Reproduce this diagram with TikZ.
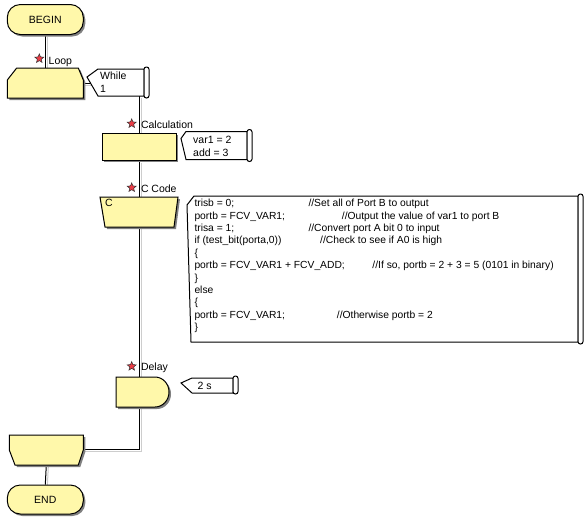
\documentclass[tikz,border=0pt]{standalone}
\usepackage{fontspec}
\setmainfont{Liberation Sans}
\usetikzlibrary{shapes.geometric,calc}
\definecolor{fcyellow}{RGB}{255,248,170}
\definecolor{shadowgray}{RGB}{128,128,128}
\definecolor{lineshadow}{RGB}{205,205,205}
\definecolor{starred}{RGB}{235,60,70}
\pgfdeclarelayer{bg}
\pgfsetlayers{bg,main}
\begin{document}
\begin{tikzpicture}[x=1pt,y=-1pt,
  font=\fontsize{10.5}{12.4}\selectfont,
  area/.style={inner sep=0pt,outer sep=0pt,draw=none},
  fcshape/.style={draw=black,line width=1pt,fill=fcyellow,
    preaction={fill=shadowgray,transform canvas={shift={(2pt,-2pt)}}}},
  flowline/.style={line width=1pt,
    preaction={draw=lineshadow,line width=1pt,transform canvas={shift={(2pt,-2pt)}}}},
  cmt/.style={draw=black,line width=1pt,fill=white},
  scroll/.style={draw=black,line width=1pt,fill=white,rounded corners=2.4pt},
  marker/.style={star,star points=5,star point ratio=2.3,fill=starred,draw=black!80,
    line width=0.5pt,minimum size=9.5pt,inner sep=0pt},
  lbl/.style={inner sep=0pt,anchor=base west},
  codetext/.style={inner sep=0pt,align=left,font=\fontsize{10.3}{12.4}\selectfont},
  cmttext/.style={inner sep=0pt,align=left,font=\fontsize{10.5}{13}\selectfont},
]
\begin{pgfonlayer}{bg}
\fill[white] (0,0) rectangle (588,522);
\end{pgfonlayer}
\useasboundingbox (0,0) rectangle (588,522);

% ---------- anchor areas for shapes ----------
\node[area,minimum width=76pt,minimum height=30pt] (loopA) at (45.3,83) {};
\node[area,minimum width=78pt,minimum height=30pt] (cbox) at (139,212) {};
\node[area,minimum width=53pt,minimum height=30pt] (delay) at (142.5,392) {};
\node[area,minimum width=74pt,minimum height=30pt] (loopB) at (46.3,450) {};

% ---------- terminators and process box ----------
\node[fcshape,rounded corners=13pt,minimum width=76pt,minimum height=30pt,inner sep=0pt]
  (begin) at (45.3,19.5) {BEGIN};
\node[fcshape,rounded corners=13pt,minimum width=76pt,minimum height=29pt,inner sep=0pt]
  (endt) at (45.3,499.5) {END};
\node[fcshape,minimum width=74pt,minimum height=27pt,inner sep=0pt] (calc) at (139,146.5) {};

% ---------- loop start shape ----------
\draw[fcshape] ($(loopA.north west)+(9.4,0)$) -- ($(loopA.north east)+(-5,0)$)
  -- ($(loopA.north east)+(0,12)$) -- (loopA.south east) -- (loopA.south west)
  -- ($(loopA.north west)+(0,12)$) -- cycle;

% ---------- C code shape ----------
\draw[fcshape] (cbox.north west) -- (cbox.north east) -- ($(cbox.south east)+(-4,0)$)
  -- ($(cbox.south west)+(5,0)$) -- cycle;
\node[lbl] (ctag) at (105,206.6) {C};

% ---------- delay shape ----------
\draw[fcshape] (delay.north west) -- ($(delay.north west)+(39,0)$)
  arc[start angle=-90,end angle=90,x radius=14,y radius=15]
  -- (delay.south west) -- cycle;

% ---------- loop end shape ----------
\draw[fcshape] (loopB.north west) -- (loopB.north east) -- ($(loopB.north east)+(0,15)$)
  -- ($(loopB.south east)+(-5,0)$) -- ($(loopB.south west)+(5.7,0)$)
  -- ($(loopB.north west)+(0,15)$) -- cycle;

% ---------- comment: While ----------
\node[area,minimum width=46pt,minimum height=27pt,anchor=north west] (whileC) at (98,69) {};
\draw[cmt] (whileC.north west) -- (whileC.north east) -- (whileC.south east)
  -- (whileC.south west) -- ($(whileC.north west)+(-11,8)$) -- cycle;
\draw[scroll] ($(whileC.north east)+(0,-2)$) rectangle ($(whileC.south east)+(5,2)$);
\node[cmttext,anchor=north west] (whileT) at (100,70) {\rule{0pt}{9pt}While\\1};
\coordinate (whileIn) at (90.5,83);
\coordinate (whileOut) at (139,96);

% ---------- comment: Calculation ----------
\node[area,minimum width=61pt,minimum height=28pt,anchor=north west] (calcC) at (186,131.5) {};
\draw[cmt] (calcC.north west) -- (calcC.north east) -- (calcC.south east)
  -- (calcC.south west) -- ($(calcC.north west)+(-5,7)$) -- cycle;
\draw[scroll] ($(calcC.north east)+(0,-2)$) rectangle ($(calcC.south east)+(5,2)$);
\node[cmttext,anchor=north west] (calcT) at (193,134) {\rule{0pt}{9pt}var1 = 2\\add = 3};

% ---------- comment: C code ----------
\node[area,minimum width=384pt,minimum height=146pt,anchor=north west] (codeC) at (194,196) {};
\draw[cmt] (codeC.north west) -- (codeC.north east) -- (codeC.south east)
  -- ($(codeC.south west)+(-3,0)$) -- ($(codeC.north west)+(-7,9)$) -- cycle;
\draw[scroll] ($(codeC.north east)+(0,-2)$) rectangle ($(codeC.south east)+(5,2)$);
\node[codetext,anchor=north west] (code) at (194.3,197.4) {\rule{0pt}{9pt}%
\makebox[114pt][l]{trisb = 0;}//Set all of Port B to output\\
\makebox[147.4pt][l]{portb = FCV\_VAR1;}//Output the value of var1 to port B\\
\makebox[114pt][l]{trisa = 1;}//Convert port A bit 0 to input\\
\makebox[125.7pt][l]{if (test\_bit(porta,0))}//Check to see if A0 is high\\
\{\\
\makebox[178pt][l]{portb = FCV\_VAR1 + FCV\_ADD;}//If so, portb = 2 + 3 = 5 (0101 in binary)\\
\}\\
else\\
\{\\
\makebox[142.4pt][l]{portb = FCV\_VAR1;}//Otherwise portb = 2\\
\}};

% ---------- comment: Delay ----------
\node[area,minimum width=41pt,minimum height=15pt,anchor=north west] (delayC) at (192,378) {};
\draw[cmt] (delayC.north west) -- (delayC.north east) -- (delayC.south east)
  -- (delayC.south west) -- ($(delayC.north west)+(-11,5)$) -- cycle;
\draw[scroll] ($(delayC.north east)+(0,-2)$) rectangle ($(delayC.south east)+(5,1)$);
\node[lbl] (delayT) at (197.5,389.3) {2 s};

% ---------- labels with stars ----------
\node[marker] (s1) at (39.3,58.6) {};
\node[lbl] (l1) at (48.5,64.5) {Loop};
\node[marker] (s2) at (131.7,123.6) {};
\node[lbl] (l2) at (140.8,128.1) {Calculation};
\node[marker] (s3) at (131.7,187.6) {};
\node[lbl] (l3) at (140.8,192.8) {C Code};
\node[marker] (s4) at (131.7,366.3) {};
\node[lbl] (l4) at (140.8,370.5) {Delay};

% ---------- connectors ----------
\begin{pgfonlayer}{bg}
\coordinate (turn) at (139,449.5);
\draw[flowline] (begin.south) -- (loopA.north);
\draw[flowline] (loopA.east |- whileIn) -- (whileIn);
\draw[flowline] (whileOut) -- (calc.north);
\draw[flowline] (calc.south) -- (cbox.south |- cbox.north);
\draw[flowline] (cbox.south) -- (cbox.south |- delay.north);
\draw[flowline] (cbox.south |- delay.south) -- (turn) -- (turn -| loopB.east);
\draw[flowline] (loopB.south) -- (endt.north);
\end{pgfonlayer}
\end{tikzpicture}
\end{document}
